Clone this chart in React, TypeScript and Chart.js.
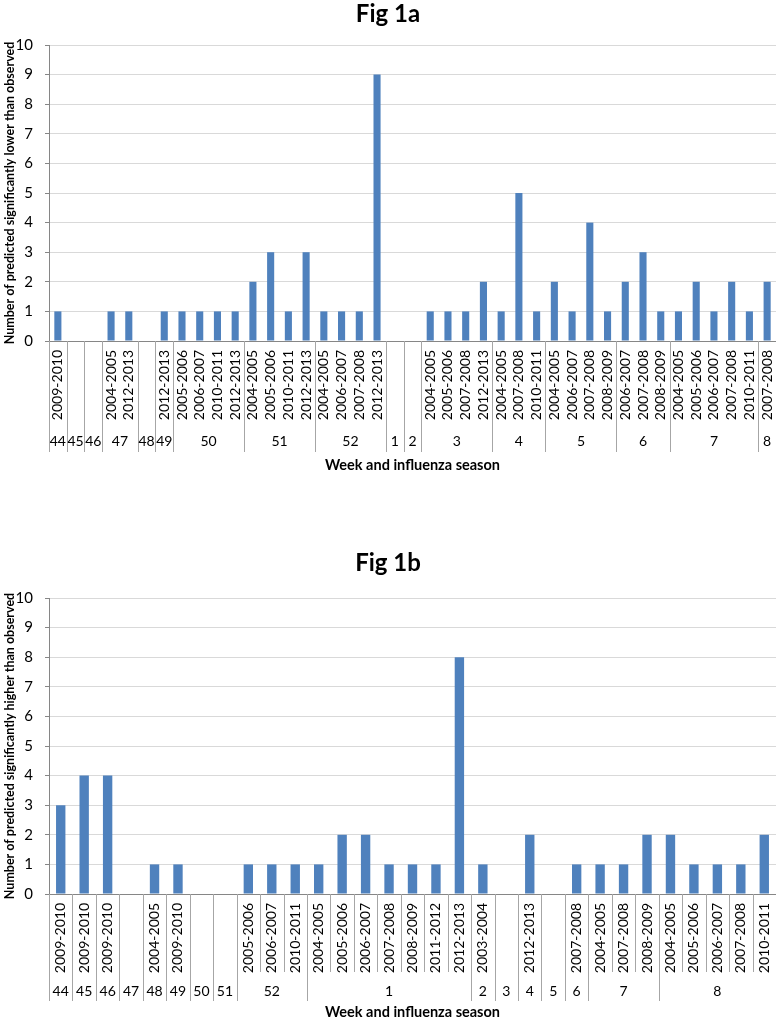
import React, { useEffect, useRef } from 'react';
import { Chart, registerables } from 'chart.js';

Chart.register(...registerables);

const FONT = 'Lato, "Open Sans", sans-serif';

// ---------- Fig 1a data ----------
const seasonsA = [
  '2009-2010', '', '', '2004-2005', '2012-2013', '', '2012-2013',
  '2005-2006', '2006-2007', '2010-2011', '2012-2013',
  '2004-2005', '2005-2006', '2010-2011', '2012-2013',
  '2004-2005', '2006-2007', '2007-2008', '2012-2013',
  '', '',
  '2004-2005', '2005-2006', '2007-2008', '2012-2013',
  '2004-2005', '2007-2008', '2010-2011',
  '2004-2005', '2006-2007', '2007-2008', '2008-2009',
  '2006-2007', '2007-2008', '2008-2009',
  '2004-2005', '2005-2006', '2006-2007', '2007-2008', '2010-2011',
  '2007-2008',
];
const valuesA = [
  1, null, null, 1, 1, null, 1,
  1, 1, 1, 1,
  2, 3, 1, 3,
  1, 1, 1, 9,
  null, null,
  1, 1, 1, 2,
  1, 5, 1,
  2, 1, 4, 1,
  2, 3, 1,
  1, 2, 1, 2, 1,
  2,
];
const weeksA = ['44', '45', '46', '47', '48', '49', '50', '51', '52', '1', '2', '3', '4', '5', '6', '7', '8'];
const weekSizesA = [1, 1, 1, 2, 1, 1, 4, 4, 4, 1, 1, 4, 3, 4, 3, 5, 1];

// ---------- Fig 1b data ----------
const seasonsB = [
  '2009-2010', '2009-2010', '2009-2010', '', '2004-2005', '2009-2010', '', '',
  '2005-2006', '2006-2007', '2010-2011',
  '2004-2005', '2005-2006', '2006-2007', '2007-2008', '2008-2009', '2011-2012', '2012-2013',
  '2003-2004', '', '2012-2013', '', '2007-2008',
  '2004-2005', '2007-2008', '2008-2009',
  '2004-2005', '2005-2006', '2006-2007', '2007-2008', '2010-2011',
];
const valuesB = [
  3, 4, 4, null, 1, 1, null, null,
  1, 1, 1,
  1, 2, 2, 1, 1, 1, 8,
  1, null, 2, null, 1,
  1, 1, 2,
  2, 1, 1, 1, 2,
];
const weeksB = ['44', '45', '46', '47', '48', '49', '50', '51', '52', '1', '2', '3', '4', '5', '6', '7', '8'];
const weekSizesB = [1, 1, 1, 1, 1, 1, 1, 1, 3, 7, 1, 1, 1, 1, 1, 3, 5];

const yTicks = [0, 1, 2, 3, 4, 5, 6, 7, 8, 9, 10];

type GroupCfg = {
  weeks: string[];
  sizes: number[];
  inner: boolean;
  labelRowBottom: number;
  groupBottom: number;
  weekY: number;
  weekFont: number;
  titleY: number;
  axisTitle: string;
};

function groupAxisPlugin(cfg: GroupCfg) {
  return {
    id: 'groupAxis',
    afterDraw(chart: any) {
      const x = chart.scales.x;
      const ctx = chart.ctx;
      const area = chart.chartArea;
      const axisY = area.bottom;
      const n = x.getLabels().length;
      const edge = (i: number) => Math.round(x.getPixelForValue(i - 0.5)) + 0.5;
      const groupEdges = new Set<number>([0]);
      let acc = 0;
      cfg.sizes.forEach((s) => {
        acc += s;
        groupEdges.add(acc);
      });
      ctx.save();
      ctx.strokeStyle = '#a6a6a6';
      ctx.lineWidth = 1;
      for (let i = 0; i <= n; i++) {
        const isGroup = groupEdges.has(i);
        if (!isGroup && !cfg.inner) continue;
        const px = edge(i);
        ctx.beginPath();
        ctx.moveTo(px, axisY);
        ctx.lineTo(px, isGroup ? cfg.groupBottom : cfg.labelRowBottom);
        ctx.stroke();
      }
      ctx.fillStyle = '#000';
      ctx.font = `${cfg.weekFont}px ${FONT}`;
      ctx.textAlign = 'center';
      ctx.textBaseline = 'middle';
      let start = 0;
      cfg.weeks.forEach((w, k) => {
        const end = start + cfg.sizes[k];
        const cx = (x.getPixelForValue(start - 0.5) + x.getPixelForValue(end - 0.5)) / 2;
        ctx.fillText(w, cx, cfg.weekY);
        start = end;
      });
      ctx.font = `bold 14.5px ${FONT}`;
      ctx.fillText(cfg.axisTitle, (area.left + area.right) / 2, cfg.titleY);
      ctx.restore();
    },
  };
}

type PanelProps = {
  top: number;
  height: number;
  title: string;
  titlePadTop: number;
  titlePadBottom: number;
  xHeight: number;
  labels: string[];
  values: (number | null)[];
  yTitle: string;
  group: GroupCfg;
};

const TITLE_SIZE = 24;

function BarPanel(p: PanelProps) {
  const ref = useRef<HTMLCanvasElement>(null);
  useEffect(() => {
    if (!ref.current) return;
    const chart = new Chart(ref.current, {
      type: 'bar',
      data: {
        labels: p.labels,
        datasets: [
          {
            data: p.values as any,
            backgroundColor: '#4f81bd',
            borderWidth: 0,
            barPercentage: 0.4,
            categoryPercentage: 1.0,
          },
        ],
      },
      options: {
        responsive: false,
        animation: false,
        devicePixelRatio: 1,
        layout: { padding: { top: 0, left: 0, right: 0, bottom: 0 } },
        plugins: {
          legend: { display: false },
          tooltip: { enabled: false },
          title: {
            display: true,
            text: p.title,
            color: '#000',
            font: { family: FONT, size: TITLE_SIZE, weight: 'bold', lineHeight: 1.2 },
            padding: { top: p.titlePadTop, bottom: p.titlePadBottom },
          },
        },
        scales: {
          x: {
            grid: { display: false, drawTicks: false },
            border: { display: true, color: '#868686', width: 1 },
            ticks: {
              autoSkip: false,
              maxRotation: 90,
              minRotation: 90,
              padding: 9,
              color: '#000',
              font: { family: FONT, size: 14 },
            },
            afterFit: (s: any) => {
              s.height = p.xHeight;
              s.paddingLeft = 0;
              s.paddingRight = 0;
            },
          },
          y: {
            min: 0,
            max: 10,
            afterBuildTicks: (s: any) => {
              s.ticks = yTicks.map((v) => ({ value: v }));
            },
            ticks: {
              padding: 12,
              color: '#000',
              font: { family: FONT, size: 15 },
            },
            grid: { color: '#d9d9d9', tickColor: '#868686', tickLength: 4 },
            border: { color: '#868686', width: 1 },
            title: {
              display: true,
              text: p.yTitle,
              color: '#000',
              font: { family: FONT, size: 12.5, weight: 'bold' },
              padding: { top: 2, bottom: 0 },
            },
            afterFit: (s: any) => {
              s.width = 49;
            },
          },
        },
      } as any,
      plugins: [groupAxisPlugin(p.group)],
    });
    return () => chart.destroy();
  }, []);
  return (
    <canvas
      ref={ref}
      width={776}
      height={p.height}
      style={{ position: 'absolute', left: 0, top: p.top, width: 776, height: p.height }}
    />
  );
}

export default function App() {
  const tl = TITLE_SIZE * 1.2;
  return (
    <div style={{ position: 'absolute', left: 0, top: 0, width: 776, height: 1019, background: '#fff', overflow: 'hidden' }}>
      <BarPanel
        top={0}
        height={480}
        title="Fig 1a"
        titlePadTop={0}
        titlePadBottom={45 - tl}
        xHeight={139}
        labels={seasonsA}
        values={valuesA}
        yTitle="Number of predicted significantly lower than observed"
        group={{
          weeks: weeksA,
          sizes: weekSizesA,
          inner: false,
          labelRowBottom: 425,
          groupBottom: 452,
          weekY: 441,
          weekFont: 14,
          titleY: 465,
          axisTitle: 'Week and influenza season',
        }}
      />
      <BarPanel
        top={480}
        height={539}
        title="Fig 1b"
        titlePadTop={83 - tl / 2}
        titlePadBottom={118 - (83 - tl / 2) - tl}
        xHeight={125}
        labels={seasonsB}
        values={valuesB}
        yTitle="Number of predicted significantly higher than observed"
        group={{
          weeks: weeksB,
          sizes: weekSizesB,
          inner: true,
          labelRowBottom: 492,
          groupBottom: 521,
          weekY: 511,
          weekFont: 14,
          titleY: 532,
          axisTitle: 'Week and influenza season',
        }}
      />
    </div>
  );
}
